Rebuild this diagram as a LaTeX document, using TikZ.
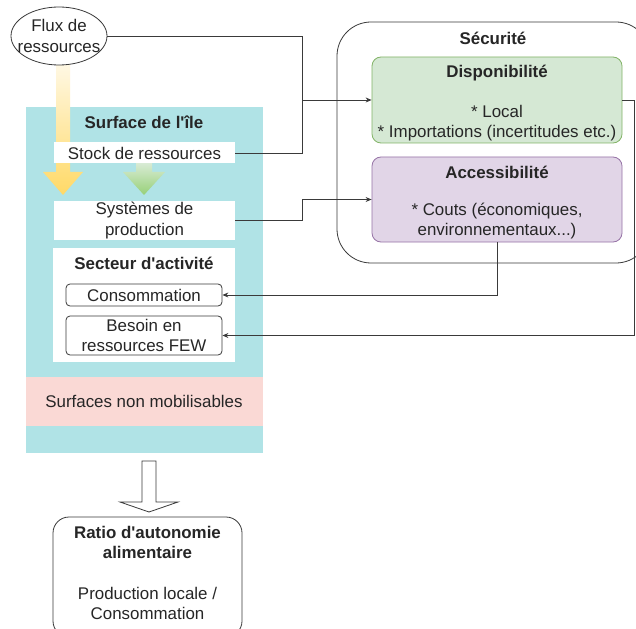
\documentclass[tikz,border=0pt]{standalone}
\usepackage{fontspec}
\setmainfont{Liberation Sans}[Ligatures=TeXOff]
\usetikzlibrary{arrows.meta,shapes.geometric}
\definecolor{islecyan}{HTML}{B0E3E6}
\definecolor{pinkzone}{HTML}{FAD9D5}
\definecolor{greenfill}{HTML}{D5E8D4}
\definecolor{greenline}{HTML}{82B366}
\definecolor{purplefill}{HTML}{E1D5E7}
\definecolor{purpleline}{HTML}{9673A6}
\definecolor{lineg}{HTML}{3A3A3A}
\definecolor{yelarrow}{HTML}{FFD966}
\definecolor{yeltop}{HTML}{FFF9E8}
\definecolor{grnarrow}{HTML}{97D077}
\definecolor{grntop}{HTML}{D8EBD5}
\tikzset{
  txt/.style={font=\fontsize{16.9}{20.5}\selectfont, align=center, inner sep=0pt, text=black!85},
  btxt/.style={txt, font=\fontsize{16.9}{20.5}\selectfont\bfseries},
  whitebox/.style={fill=white, draw=none, inner sep=0pt},
  roundbox/.style={draw=lineg, line width=0.8pt, rounded corners=4pt, fill=white, inner sep=0pt},
  conn/.style={draw=lineg, line width=0.8pt},
  connarrow/.style={conn, -{Stealth[length=6pt,width=5pt]}},
}
\begin{document}
\begin{tikzpicture}[x=1pt,y=-1pt]
\clip (0,0) rectangle (636,628);
\fill[white] (0,0) rectangle (636,628);

% island surface
\fill[islecyan] (26,107) rectangle (263,453);
\node[btxt] (surftitle) at (144,122) {Surface de l'île};
\fill[pinkzone] (26,377) rectangle (263,426);
\node[txt] (nonmob) at (144,401.5) {Surfaces non mobilisables};

% gradient arrows
\shade[top color=yeltop, bottom color=yelarrow]
  (56,60) -- (70,60) -- (70,172) -- (83,172) -- (63,195) -- (43,172) -- (56,172) -- cycle;
\shade[top color=grntop, bottom color=grnarrow]
  (136,163) -- (152,163) -- (152,172) -- (165,172) -- (144,195) -- (123,172) -- (136,172) -- cycle;

% white boxes
\node[whitebox, minimum width=181pt, minimum height=21pt] (stock) at (144.5,153) {};
\node[txt] at (stock) {Stock de ressources};
\node[whitebox, minimum width=181pt, minimum height=39pt] (sys) at (144.5,220.5) {};
\node[txt] at (sys) {Systèmes de\\production};
\node[whitebox, minimum width=182pt, minimum height=114pt] (secteur) at (144,305) {};
\node[btxt] (sectitle) at (144,263) {Secteur d'activité};
\node[roundbox, minimum width=156pt, minimum height=22pt] (conso) at (144,295) {};
\node[txt] at (conso) {Consommation};
\node[roundbox, minimum width=156pt, minimum height=39pt] (besoin) at (144,335.5) {};
\node[txt] at (besoin) {Besoin en\\ressources FEW};

% flux ellipse
\node[draw=lineg, line width=0.8pt, fill=white, ellipse, minimum width=96pt, minimum height=58pt, inner sep=0pt] (flux) at (59,36) {};
\node[txt] at (flux) {Flux de\\ressources};

% security
\draw[lineg, line width=0.8pt, rounded corners=34pt] (337,22) rectangle (650,263);
\node[btxt] (sectitle2) at (493,38) {Sécurité};
\node[draw=greenline, fill=greenfill, line width=0.8pt, rounded corners=9pt, minimum width=250pt, minimum height=86pt, inner sep=0pt] (dispo) at (497,100) {};
\node[btxt] at (497,73) {Disponibilité};
\node[txt] at (497,123) {* Local\\* Importations (incertitudes etc.)};
\node[draw=purpleline, fill=purplefill, line width=0.8pt, rounded corners=9pt, minimum width=250pt, minimum height=85pt, inner sep=0pt] (acc) at (497,199.5) {};
\node[btxt] at (497,172) {Accessibilité};
\node[txt] at (497,221) {* Couts (économiques,\\environnementaux...)};

% connectors
\coordinate (j1) at (302,100);
\coordinate (j2) at (302,220.5);
\coordinate (j3) at (634,100);
\draw[conn] (flux.east) -| (j1);
\draw[conn] (stock.east) -| (j1);
\draw[connarrow] (j1) -- (dispo.west);
\draw[connarrow] (sys.east) -- (j2) |- (acc.west);
\draw[connarrow] (acc.south) |- (conso.east);
\draw[connarrow] (dispo.east) -- (j3) |- (besoin.east);

% hollow arrow
\draw[lineg, line width=0.8pt, fill=white] (142,461) -- (156,461) -- (156,502) -- (178,502) -- (149,512) -- (120,502) -- (142,502) -- cycle;

% ratio box
\node[draw=lineg, line width=0.8pt, rounded corners=16pt, fill=white, minimum width=189pt, minimum height=120pt, inner sep=0pt] (ratio) at (147.5,577) {};
\node[btxt] at (147.5,542.5) {Ratio d'autonomie\\alimentaire};
\node[txt] at (147.5,603.5) {Production locale /\\Consommation};
\end{tikzpicture}
\end{document}
